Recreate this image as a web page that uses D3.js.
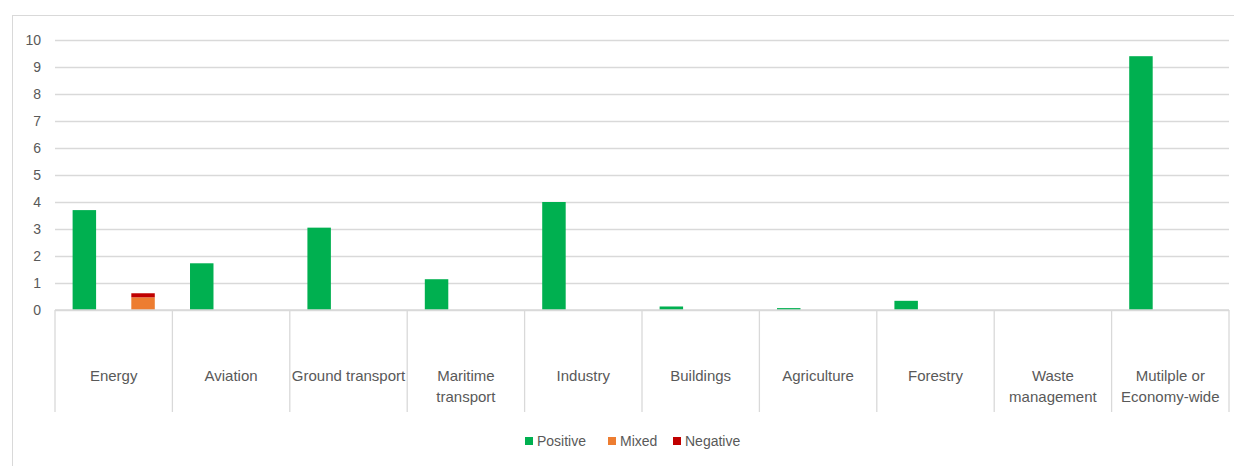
<!DOCTYPE html>
<html>
<head>
<meta charset="utf-8">
<script src="https://cdn.jsdelivr.net/npm/d3@7"></script>
<style>
    body { margin: 0; background: #fff; }
    text { font-family: "Liberation Sans", Arial, sans-serif; fill: #595959; }
</style>
</head>
<body>
<div id="bar"></div>
<script>
// Chart data
var categories = ["Energy", "Aviation", "Ground transport", "Maritime\ntransport", "Industry",
                  "Buildings", "Agriculture", "Forestry", "Waste\nmanagement", "Mutilple or\nEconomy-wide"];
var positive = [3.7, 1.73, 3.05, 1.14, 4.0, 0.13, 0.07, 0.34, 0, 9.4];
var mixed    = [0.47, 0, 0, 0, 0, 0, 0, 0, 0, 0];
var negative = [0.15, 0, 0, 0, 0, 0, 0, 0, 0, 0];
var yTicks = [0, 1, 2, 3, 4, 5, 6, 7, 8, 9, 10];
var seriesNames = ["Positive", "Mixed", "Negative"];

var width = 1234, height = 466;
var plot = { left: 55, right: 1229, top: 40, bottom: 310 };

var svg = d3.select("#bar")
    .append("svg")
    .attr("width", width)
    .attr("height", height);

// Outer frame (only left and top edges show inside the window)
svg.append("rect")
    .attr("x", 12.5)
    .attr("y", 15.5)
    .attr("width", 1240)
    .attr("height", 470)
    .attr("fill", "none")
    .attr("stroke", "#d9d9d9");

var color = d3.scaleOrdinal()
    .domain(seriesNames)
    .range(["#00b050", "#ed7d31", "#c00000"]);

var x = d3.scaleBand()
    .domain(categories)
    .range([plot.left, plot.right])
    .padding(0);

// two slots per category: positive, then mixed+negative stacked
var xSlot = d3.scaleBand()
    .domain(["pos", "other"])
    .range([0, x.bandwidth()])
    .paddingInner(0.6)
    .paddingOuter(0.3);

var y = d3.scaleLinear()
    .domain([0, 10])
    .range([plot.bottom, plot.top]);

// Gridlines + Y labels
var yAxis = svg.append("g")
    .attr("transform", `translate(${plot.left}, 0)`)
    .call(d3.axisLeft(y).tickValues(yTicks).tickSize(-(plot.right - plot.left)).tickPadding(14));
yAxis.select(".domain").remove();
yAxis.selectAll(".tick line").attr("stroke", "#d9d9d9").attr("stroke-width", 1.3);
yAxis.selectAll(".tick text")
    .attr("font-size", "14px")
    .attr("font-family", "Liberation Sans, Arial, sans-serif")
    .attr("fill", "#595959");

// Category dividers under the axis
var dividers = x.domain().map(d => x(d)).concat([plot.right]);
svg.append("g")
    .selectAll("line")
    .data(dividers)
    .enter()
    .append("line")
    .attr("x1", d => d)
    .attr("x2", d => d)
    .attr("y1", plot.bottom)
    .attr("y2", 412)
    .attr("stroke", "#d9d9d9")
    .attr("stroke-width", 1.3);

// Category labels
var labels = svg.append("g")
    .selectAll("text")
    .data(categories)
    .enter()
    .append("text")
    .attr("text-anchor", "middle")
    .attr("font-size", "15px")
    .attr("x", d => x(d) + x.bandwidth() / 2)
    .attr("y", 381);
labels.selectAll("tspan")
    .data(d => d.split("\n"))
    .enter()
    .append("tspan")
    .attr("x", function() { return d3.select(this.parentNode).attr("x"); })
    .attr("dy", (d, i) => i === 0 ? 0 : 21)
    .text(d => d);

// Positive bars
svg.append("g")
    .attr("fill", color("Positive"))
    .selectAll("rect")
    .data(categories)
    .enter()
    .append("rect")
    .attr("x", d => x(d) + xSlot("pos"))
    .attr("width", xSlot.bandwidth())
    .attr("y", (d, i) => y(positive[i]))
    .attr("height", (d, i) => y(0) - y(positive[i]));

// Mixed + Negative stacked
var stackRows = categories.map((c, i) => ({ category: c, Mixed: mixed[i], Negative: negative[i] }));
var stackedData = d3.stack().keys(["Mixed", "Negative"])(stackRows);
svg.append("g")
    .selectAll("g")
    .data(stackedData)
    .enter()
    .append("g")
    .attr("fill", d => color(d.key))
    .selectAll("rect")
    .data(d => d)
    .enter()
    .append("rect")
    .attr("x", d => x(d.data.category) + xSlot("other"))
    .attr("width", xSlot.bandwidth())
    .attr("y", d => y(d[1]))
    .attr("height", d => y(d[0]) - y(d[1]));

// Axis baseline
svg.append("line")
    .attr("x1", plot.left)
    .attr("x2", plot.right)
    .attr("y1", y(0))
    .attr("y2", y(0))
    .attr("stroke", "#d9d9d9")
    .attr("stroke-width", 1.3);

// Legend
var legendX = [525, 608, 673];
var legend = svg.append("g")
    .selectAll("g")
    .data(seriesNames)
    .enter()
    .append("g")
    .attr("transform", (d, i) => `translate(${legendX[i]}, 441)`);
legend.append("rect")
    .attr("x", 0)
    .attr("y", -4)
    .attr("width", 8)
    .attr("height", 8)
    .attr("fill", d => color(d));
legend.append("text")
    .attr("x", 12)
    .attr("y", 5)
    .attr("font-size", "14px")
    .text(d => d);
</script>
</body>
</html>
